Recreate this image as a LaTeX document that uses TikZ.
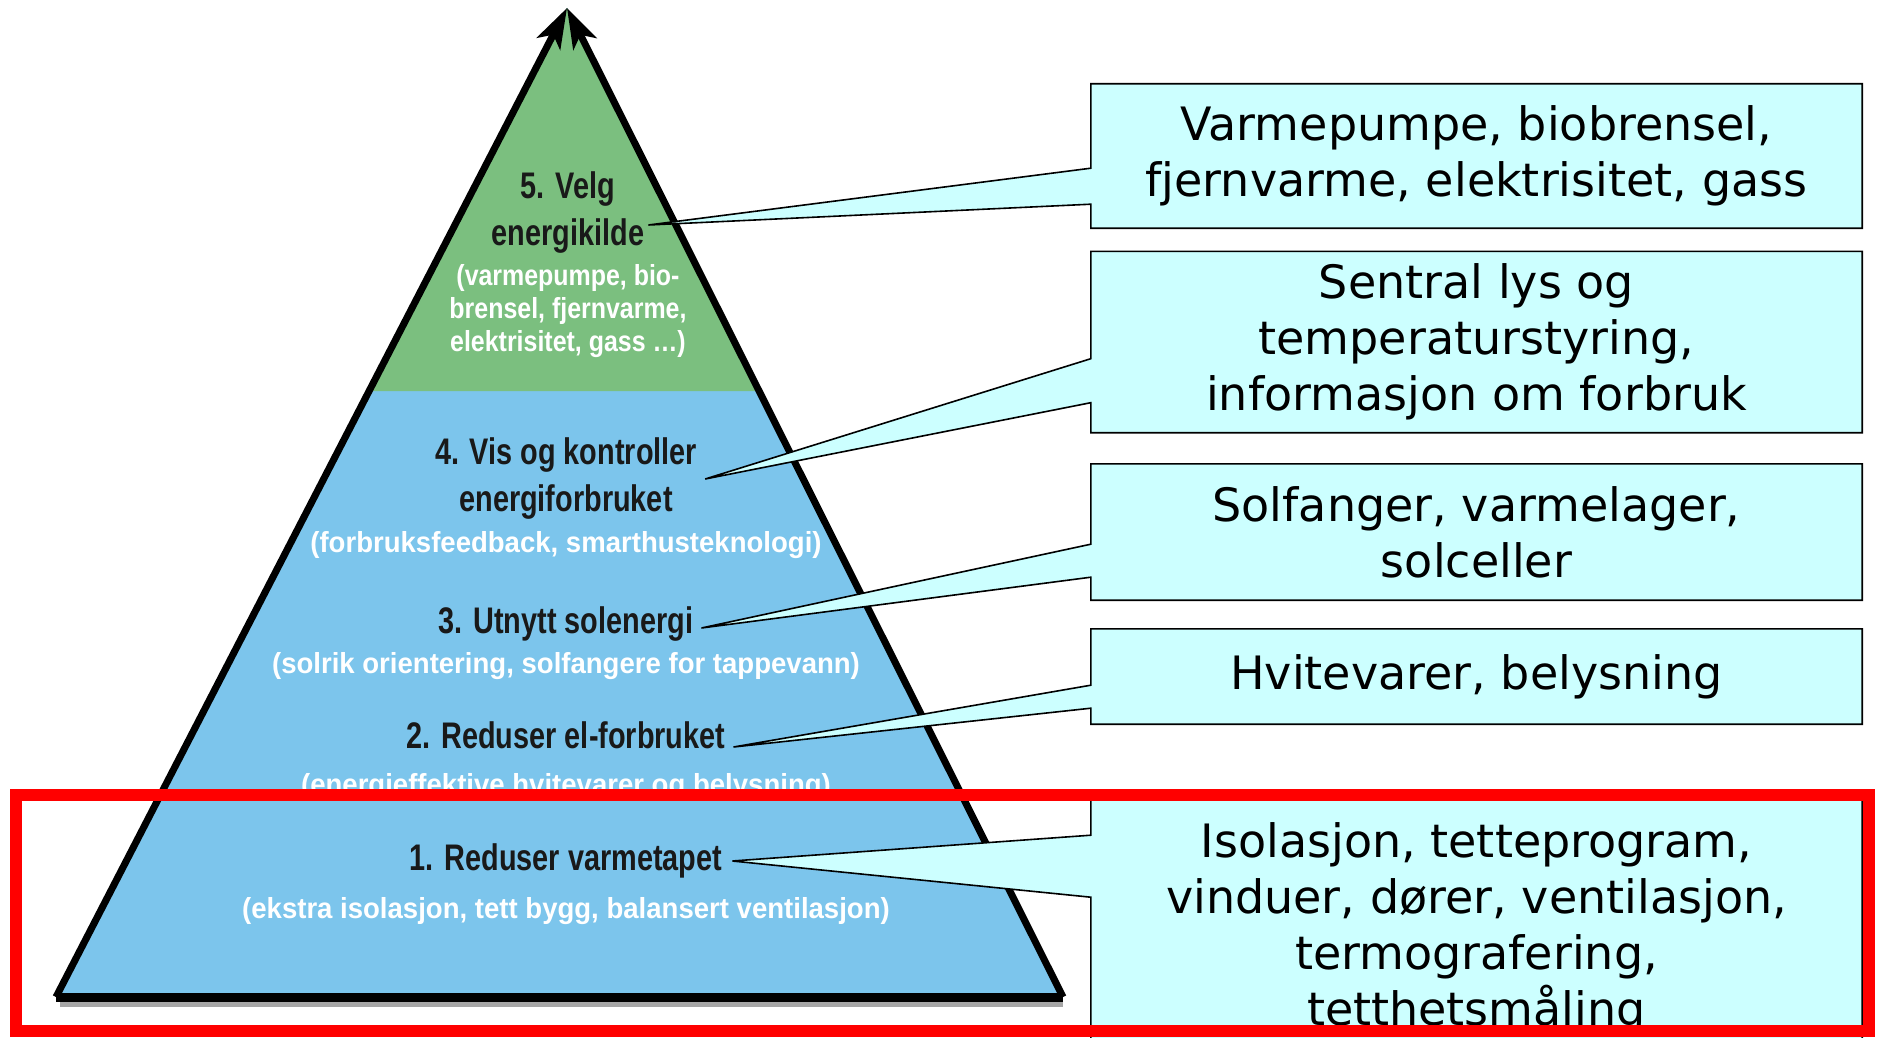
\documentclass[tikz,border=0pt]{standalone}
\usepackage{fontspec}
\setmainfont{DejaVu Sans}
\newfontfamily\pyrfont[FakeStretch=0.78]{Liberation Sans}
\newfontfamily\subfont[FakeStretch=0.86]{Liberation Sans}
\newfontfamily\subwfont[FakeStretch=0.95]{Liberation Sans}
\usetikzlibrary{arrows.meta}
\definecolor{pyrgreen}{RGB}{123,191,127}
\definecolor{pyrblue}{RGB}{124,197,236}
\definecolor{boxcyan}{RGB}{204,255,255}
\pgfdeclarelayer{bottom}
\pgfdeclarelayer{back}
\pgfsetlayers{bottom,back,main}
% box, tip, lower and upper notch height above the box's bottom
\newcommand\drawcallout[4]{%
  \draw[callout]([yshift=#3]#1.south west)--(#1.south west)--(#1.south east)
    --(#1.north east)--(#1.north west)--([yshift=#4]#1.south west)--(#2)--cycle;}
\begin{document}
\begin{tikzpicture}[x=1pt, y=-1pt,
    ttl/.style={font=\pyrfont\bfseries\fontsize{37}{47}\selectfont, align=center, text=black!90, inner sep=0pt},
    subttl/.style={font=\subfont\bfseries\fontsize{29}{33}\selectfont, align=center, text=white, inner sep=0pt},
    subwide/.style={subttl, font=\subwfont\bfseries\fontsize{29}{33}\selectfont},
    boxtxt/.style={font=\fontsize{46}{56}\selectfont, align=center, minimum width=771pt, inner sep=0pt},
    callout/.style={fill=boxcyan, draw=black, line width=1.6pt},
    edge/.style={line width=7pt, -{Stealth[length=40pt,width=26pt,inset=10pt]}}]
\useasboundingbox (0,0) rectangle (1879,1038);

\begin{pgfonlayer}{bottom}
\fill[pyrblue](56,997)--(567,8)--(1063,997)--cycle;
\fill[pyrgreen](369,391)--(567,8)--(759,391)--cycle;
\draw[gray!70, line width=6pt](60,1004)--(1063,1004);
\draw[line width=9pt](56,997)--(1063,997);
\draw[edge](56,997)--(567,8);
\draw[edge](1063,997)--(567,8);
\end{pgfonlayer}

\node[ttl] (t5) at (568,213) {5. Velg\\energikilde};
\node[subttl] (s5) at (568,311) {(varmepumpe, bio-\\brensel, fjernvarme,\\elektrisitet, gass \ldots)};
\node[ttl] (t4) at (566,479) {4. Vis og kontroller\\energiforbruket};
\node[subwide] (s4) at (566,545) {(forbruksfeedback, smarthusteknologi)};
\node[ttl] (t3) at (566,624) {3. Utnytt solenergi};
\node[subwide] (s3) at (566,666) {(solrik orientering, solfangere for tappevann)};
\node[ttl] (t2) at (566,735) {2. Reduser el-forbruket};
\node[subwide] (s2) at (566,787) {(energieffektive hvitevarer og belysning)};
\node[ttl] (t1) at (566,861) {1. Reduser varmetapet};
\node[subwide] (s1) at (566,911) {(ekstra isolasjon, tett bygg, balansert ventilasjon)};

\coordinate (p5) at ([xshift=4pt,yshift=-12pt]t5.east);
\coordinate (p4) at ([xshift=8pt]t4.east);
\coordinate (p3) at ([xshift=8pt,yshift=-4pt]t3.east);
\coordinate (p2) at ([xshift=8pt,yshift=-12pt]t2.east);
\coordinate (p1) at ([xshift=10pt]t1.east);

\node[boxtxt, minimum height=144pt] (b5) at (1476.5,156) {Varmepumpe, biobrensel,\\fjernvarme, elektrisitet, gass};
\node[boxtxt, minimum height=181pt] (b4) at (1476.5,342) {Sentral lys og\\temperaturstyring,\\informasjon om forbruk};
\node[boxtxt, minimum height=136pt] (b3) at (1476.5,532) {Solfanger, varmelager,\\solceller};
\node[boxtxt, minimum height=95pt] (b2) at (1476.5,676.5) {Hvitevarer, belysning};
\node[boxtxt, minimum height=264pt] (b1) at (1476.5,929) {Isolasjon, tetteprogram,\\vinduer, dører, ventilasjon,\\termografering,\\tetthetsmåling};

\begin{pgfonlayer}{back}
\drawcallout{b5}{p5}{24pt}{60pt}
\drawcallout{b4}{p4}{30pt}{74pt}
\drawcallout{b3}{p3}{23pt}{56pt}
\drawcallout{b2}{p2}{16pt}{39pt}
\drawcallout{b1}{p1}{164pt}{226pt}
\end{pgfonlayer}

\draw[red, line width=12pt](16,795) rectangle (1869,1031);
\end{tikzpicture}
\end{document}
